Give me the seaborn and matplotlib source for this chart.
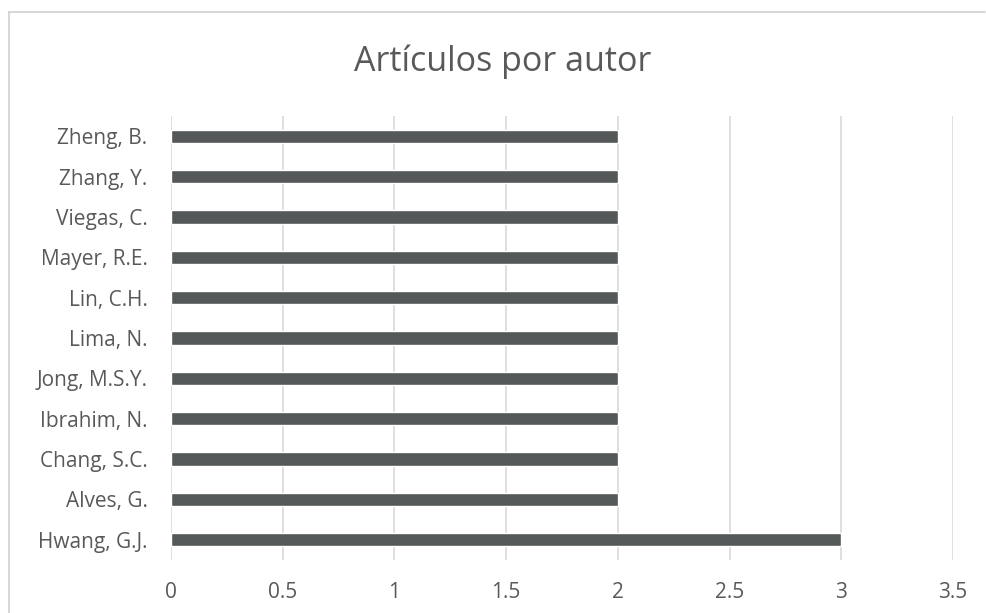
import matplotlib
matplotlib.use("Agg")
import matplotlib.pyplot as plt
from matplotlib.lines import Line2D
import seaborn as sns
import pandas as pd

autores = ["Zheng, B.", "Zhang, Y.", "Viegas, C.", "Mayer, R.E.", "Lin, C.H.",
           "Lima, N.", "Jong, M.S.Y.", "Ibrahim, N.", "Chang, S.C.", "Alves, G.",
           "Hwang, G.J."]
articulos = [2, 2, 2, 2, 2, 2, 2, 2, 2, 2, 3]
x_ticks = [0, 0.5, 1, 1.5, 2, 2.5, 3, 3.5]
x_tick_labels = ["0", "0.5", "1", "1.5", "2", "2.5", "3", "3.5"]

df = pd.DataFrame({"autor": autores, "articulos": articulos})

sns.set_theme(style="white")
plt.rcParams["font.family"] = ["Open Sans", "DejaVu Sans"]

texto = "#595959"
barra = "#545859"
rejilla = "#d9d9d9"

fig = plt.figure(figsize=(9.86, 6.13), dpi=100)
W, H = 986, 613
ax = fig.add_axes([171 / W, 1 - 560 / H, (953 - 171) / W, (560 - 116) / H])

sns.barplot(data=df, x="articulos", y="autor", orient="h", color=barra,
            width=0.33, saturation=1, ax=ax, zorder=3)

ax.set_xlim(0, 3.5)
ax.set_ylim(len(autores) - 0.5, -0.5)
ax.set_xticks(x_ticks)
ax.set_xticklabels(x_tick_labels)
ax.grid(axis="x", color=rejilla, linewidth=1.2, zorder=0)
ax.grid(axis="y", visible=False)
for s in ax.spines.values():
    s.set_visible(False)
ax.set_xlabel("")
ax.set_ylabel("")
ax.tick_params(axis="both", length=0, labelsize=15, labelcolor=texto)
ax.tick_params(axis="y", pad=17)
ax.tick_params(axis="x", pad=16)

fig.text(503 / W, 1 - 62 / H, "Artículos por autor", ha="center", va="center",
         fontsize=24.5, color=texto)

# chart frame
fig.add_artist(Line2D([8.5 / W, 985 / W], [1 - 11.5 / H, 1 - 11.5 / H],
                      transform=fig.transFigure, color="#d0d0d0", linewidth=1.2))
fig.add_artist(Line2D([8.5 / W, 8.5 / W], [1 - 11.5 / H, 0],
                      transform=fig.transFigure, color="#d0d0d0", linewidth=1.2))

fig.savefig("out.png", dpi=100, facecolor="white")
